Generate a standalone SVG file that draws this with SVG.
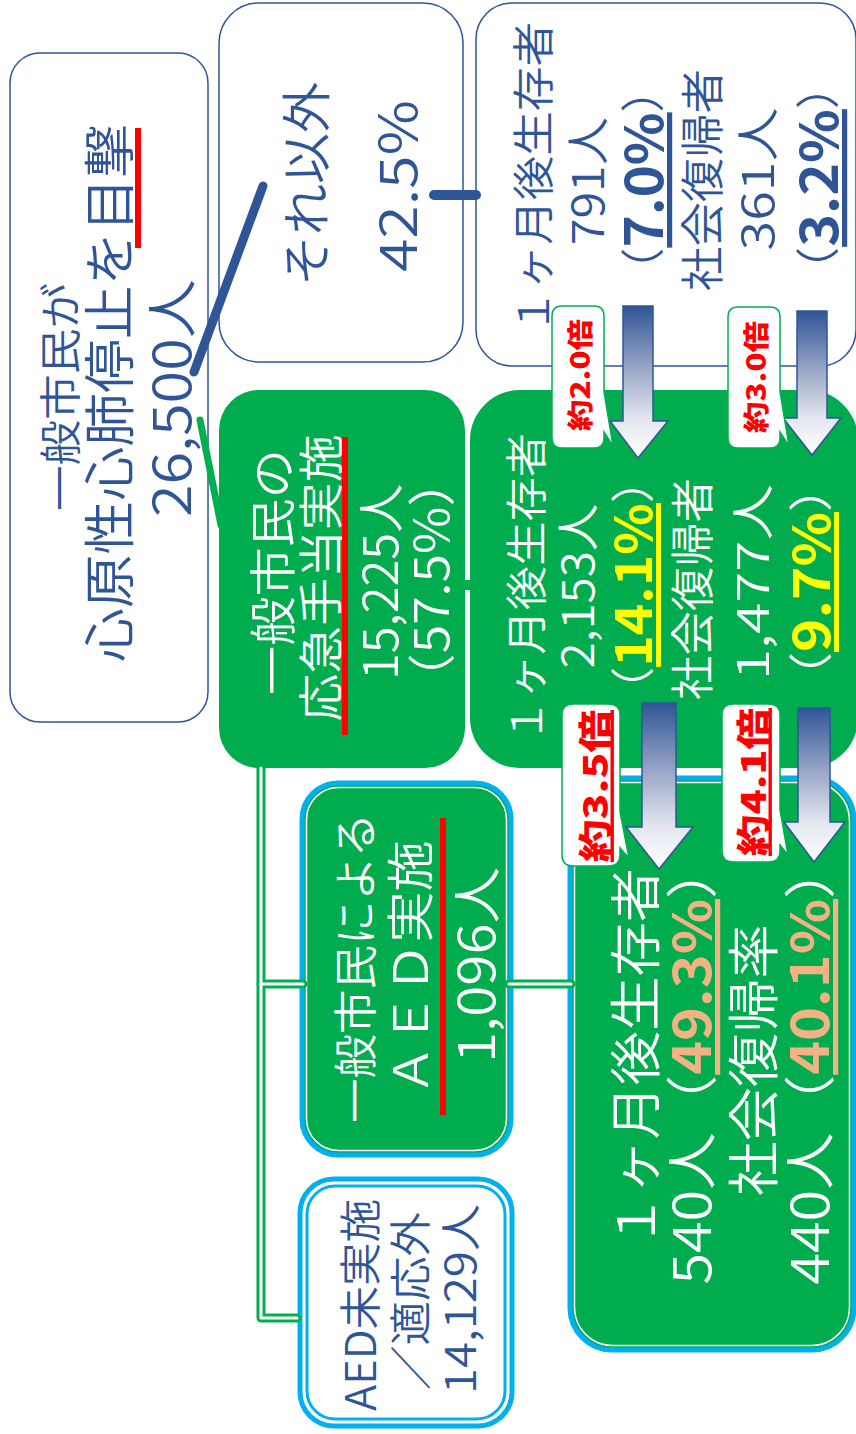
<svg xmlns="http://www.w3.org/2000/svg" width="856" height="1434" viewBox="0 0 856 1434">
<defs>
<style>
.t{font-family:"Noto Sans CJK JP","Noto Sans",sans-serif;text-anchor:middle;dominant-baseline:central;font-weight:350}
.bl{fill:#2F5597}
.wh{fill:#FFFFFF}
.rd{fill:#FF0000;font-weight:900}
.bd{font-weight:700}
.boxw{fill:#FFFFFF;stroke:#2F5597;stroke-width:1.5}
.boxg{fill:#00AC4E}
.lbl{fill:#FFFFFF;stroke:#00B050;stroke-width:1.5}
.arr{fill:url(#ag);stroke:#2F5597;stroke-width:1.5}
.cy{fill:none;stroke:#00B0F0;stroke-width:5}
.gline{fill:none;stroke:#00B050;stroke-width:9;stroke-linecap:round;stroke-linejoin:round}
.wline{fill:none;stroke:#FFFFFF;stroke-width:3;stroke-linecap:round;stroke-linejoin:round}
</style>
<linearGradient id="ag" x1="0" y1="0" x2="0" y2="1">
<stop offset="0" stop-color="#2F5597"/>
<stop offset="0.45" stop-color="#A3AECB"/>
<stop offset="0.75" stop-color="#E4E7F0"/>
<stop offset="1" stop-color="#FFFFFF"/>
</linearGradient>
</defs>
<rect width="856" height="1434" fill="#FFFFFF"/>

<g id="nodeA">
<rect class="boxw" x="10" y="53" width="198" height="669" rx="30"/>
<text class="t bl" font-size="42" textLength="228" lengthAdjust="spacingAndGlyphs" transform="translate(57,397) rotate(-90)">一般市民が</text>
<text class="t bl" font-size="52" textLength="538" lengthAdjust="spacingAndGlyphs" transform="translate(106,393) rotate(-90)">心原性心肺停止を目撃</text>
<rect x="135" y="128" width="6" height="120" fill="#FF0000"/>
<text class="t bl" font-size="52" textLength="238" lengthAdjust="spacingAndGlyphs" transform="translate(168,398) rotate(-90)">26,500人</text>
</g>

<g id="nodeB">
<rect class="boxw" x="219" y="3" width="244" height="359" rx="40"/>
<text class="t bl" font-size="50" textLength="204" lengthAdjust="spacingAndGlyphs" transform="translate(303,184) rotate(-90)">それ以外</text>
<text class="t bl" font-size="52" textLength="172" lengthAdjust="spacingAndGlyphs" transform="translate(394,186) rotate(-90)">42.5%</text>
</g>

<g id="nodeC">
<rect class="boxw" x="476" y="3" width="380" height="363" rx="36"/>
<text class="t bl" font-size="42" textLength="312" lengthAdjust="spacingAndGlyphs" transform="translate(530,178) rotate(-90)">１ヶ月後生存者</text>
<text class="t bl" font-size="44" textLength="128" lengthAdjust="spacingAndGlyphs" transform="translate(585,181) rotate(-90)">791人</text>
<text class="t bl" font-size="44" textLength="228" lengthAdjust="spacingAndGlyphs" transform="translate(640,180) rotate(-90)">（<tspan class="bd" font-size="52" text-decoration="underline">7.0%</tspan>）</text>
<text class="t bl" font-size="44" textLength="222" lengthAdjust="spacingAndGlyphs" transform="translate(700,180) rotate(-90)">社会復帰者</text>
<text class="t bl" font-size="44" textLength="143" lengthAdjust="spacingAndGlyphs" transform="translate(755,179) rotate(-90)">361人</text>
<text class="t bl" font-size="44" textLength="232" lengthAdjust="spacingAndGlyphs" transform="translate(815,178) rotate(-90)">（<tspan class="bd" font-size="52" text-decoration="underline">3.2%</tspan>）</text>
</g>

<g id="nodeD">
<rect class="boxg" x="219" y="390" width="246" height="378" rx="40"/>
<text class="t wh" font-size="47" textLength="246" lengthAdjust="spacingAndGlyphs" transform="translate(269,572) rotate(-90)">一般市民の</text>
<text class="t wh" font-size="45" textLength="287" lengthAdjust="spacingAndGlyphs" transform="translate(318,578) rotate(-90)">応急手当実施</text>
<rect x="342" y="437" width="6" height="298" fill="#FF0000"/>
<text class="t wh" font-size="48" textLength="196" lengthAdjust="spacingAndGlyphs" transform="translate(377,582) rotate(-90)">15,225人</text>
<text class="t wh" font-size="48" textLength="250" lengthAdjust="spacingAndGlyphs" transform="translate(428,580) rotate(-90)">（57.5%）</text>
</g>

<g id="nodeE">
<rect class="boxg" x="470" y="390" width="388" height="378" rx="50"/>
<text class="t wh" font-size="42" textLength="310" lengthAdjust="spacingAndGlyphs" transform="translate(523,588) rotate(-90)">１ヶ月後生存者</text>
<text class="t wh" font-size="44" textLength="165" lengthAdjust="spacingAndGlyphs" transform="translate(575,586) rotate(-90)">2,153人</text>
<text class="t wh" font-size="44" textLength="258" lengthAdjust="spacingAndGlyphs" transform="translate(630,585) rotate(-90)">（<tspan class="bd" font-size="50" fill="#FFFF00" text-decoration="underline">14.1%</tspan>）</text>
<text class="t wh" font-size="44" textLength="222" lengthAdjust="spacingAndGlyphs" transform="translate(690,589) rotate(-90)">社会復帰者</text>
<text class="t wh" font-size="44" textLength="196" lengthAdjust="spacingAndGlyphs" transform="translate(750,582) rotate(-90)">1,477人</text>
<text class="t wh" font-size="44" textLength="240" lengthAdjust="spacingAndGlyphs" transform="translate(808,582) rotate(-90)">（<tspan class="bd" font-size="50" fill="#FFFF00" text-decoration="underline">9.7%</tspan>）</text>
</g>

<g id="nodeF">
<rect class="boxg" x="302" y="783" width="209" height="372" rx="36"/>
<rect class="cy" x="302" y="783" width="209" height="372" rx="36"/>
<rect x="306.5" y="787.5" width="200" height="363" rx="32" fill="none" stroke="#FFFFFF" stroke-width="1.5"/>
<text class="t wh" font-size="44" textLength="310" lengthAdjust="spacingAndGlyphs" transform="translate(353,968) rotate(-90)">一般市民による</text>
<text class="t wh" font-size="48" textLength="255" lengthAdjust="spacingAndGlyphs" transform="translate(407,968) rotate(-90)">ＡＥＤ実施</text>
<rect x="440" y="818" width="6" height="297" fill="#FF0000"/>
<text class="t wh" font-size="50" textLength="196" lengthAdjust="spacingAndGlyphs" transform="translate(473,965) rotate(-90)">1,096人</text>
</g>

<g id="nodeG">
<rect class="boxg" x="570" y="778" width="284" height="572" rx="42"/>
<rect class="cy" x="570" y="778" width="284" height="572" rx="42"/>
<rect x="574.5" y="782.5" width="275" height="563" rx="38" fill="none" stroke="#FFFFFF" stroke-width="1.5"/>
<text class="t wh" font-size="52" textLength="380" lengthAdjust="spacingAndGlyphs" transform="translate(632,1058) rotate(-90)">１ヶ月後生存者</text>
<text class="t wh" font-size="52" textLength="443" lengthAdjust="spacingAndGlyphs" transform="translate(688,1063) rotate(-90)">540人（<tspan class="bd" fill="#F4B183" text-decoration="underline">49.3%</tspan>）</text>
<text class="t wh" font-size="52" textLength="272" lengthAdjust="spacingAndGlyphs" transform="translate(750,1060) rotate(-90)">社会復帰率</text>
<text class="t wh" font-size="52" textLength="443" lengthAdjust="spacingAndGlyphs" transform="translate(806,1063) rotate(-90)">440人（<tspan class="bd" fill="#F4B183" text-decoration="underline">40.1%</tspan>）</text>
</g>

<g id="nodeH">
<rect x="300" y="1179" width="212" height="247" rx="34" fill="#FFFFFF"/>
<rect class="cy" x="300" y="1179" width="212" height="247" rx="34" stroke-width="4"/>
<rect x="307" y="1186" width="198" height="233" rx="28" fill="none" stroke="#00B0F0" stroke-width="3"/>
<text class="t bl" font-size="42" textLength="212" lengthAdjust="spacingAndGlyphs" transform="translate(357,1305) rotate(-90)">AED未実施</text>
<text class="t bl" font-size="42" textLength="178" lengthAdjust="spacingAndGlyphs" transform="translate(407,1301) rotate(-90)">／適応外</text>
<text class="t bl" font-size="42" textLength="190" lengthAdjust="spacingAndGlyphs" transform="translate(457,1299) rotate(-90)">14,129人</text>
</g>

<g id="connectors">
<line x1="194" y1="372" x2="263" y2="186" stroke="#2F5597" stroke-width="9" stroke-linecap="round"/>
<line x1="434" y1="195" x2="476" y2="195" stroke="#2F5597" stroke-width="10" stroke-linecap="round"/>
<line x1="200" y1="420" x2="221" y2="525" stroke="#00B050" stroke-width="7" stroke-linecap="round"/>
<rect x="462" y="580" width="10" height="10" fill="#00AC4E"/>
<path class="gline" d="M261,768 V1318 H297"/>
<path class="gline" d="M261,984 H303"/>
<path class="gline" d="M509,984 H571"/>
<path class="wline" d="M261,768 V1318 H297"/>
<path class="wline" d="M261,984 H303"/>
<path class="wline" d="M509,984 H571"/>
</g>

<g id="arrows">
<path class="arr" d="M623,306 H653 V421 H668 L638,458 L610,421 H623 Z"/>
<path class="arr" d="M797,311 H827 V418 H841 L812,455 L783,418 H797 Z"/>
<path class="arr" d="M642,703 H676 V827 H693 L659,869 L626,827 H642 Z"/>
<path class="arr" d="M798,708 H830 V822 H845 L814,862 L784,822 H798 Z"/>
</g>

<g id="label1">
<path class="lbl" d="M562,306 H594 Q604,306 604,316 V392 L613,446 L604,432 V438 Q604,448 594,448 H562 Q552,448 552,438 V316 Q552,306 562,306 Z"/>
<text class="t rd" font-size="26" textLength="112" lengthAdjust="spacingAndGlyphs" transform="translate(578,375) rotate(-90)">約2.0倍</text>
</g>
<g id="label2">
<path class="lbl" d="M738,307 H770 Q780,307 780,317 V392 L789,446 L780,432 V438 Q780,448 770,448 H738 Q728,448 728,438 V317 Q728,307 738,307 Z"/>
<text class="t rd" font-size="26" textLength="112" lengthAdjust="spacingAndGlyphs" transform="translate(754,377) rotate(-90)">約3.0倍</text>
</g>
<g id="label3">
<path class="lbl" d="M573,704 H609 Q620,704 620,715 V812 L629,858 L620,848 V855 Q620,866 609,866 H573 Q562,866 562,855 V715 Q562,704 573,704 Z"/>
<text class="t rd" font-size="34" textLength="152" lengthAdjust="spacingAndGlyphs" text-decoration="underline" transform="translate(593,786) rotate(-90)">約3.5倍</text>
</g>
<g id="label4">
<path class="lbl" d="M733,704 H769 Q780,704 780,715 V810 L788,855 L780,845 V851 Q780,862 769,862 H733 Q722,862 722,851 V715 Q722,704 733,704 Z"/>
<text class="t rd" font-size="34" textLength="148" lengthAdjust="spacingAndGlyphs" text-decoration="underline" transform="translate(751,782) rotate(-90)">約4.1倍</text>
</g>
</svg>
